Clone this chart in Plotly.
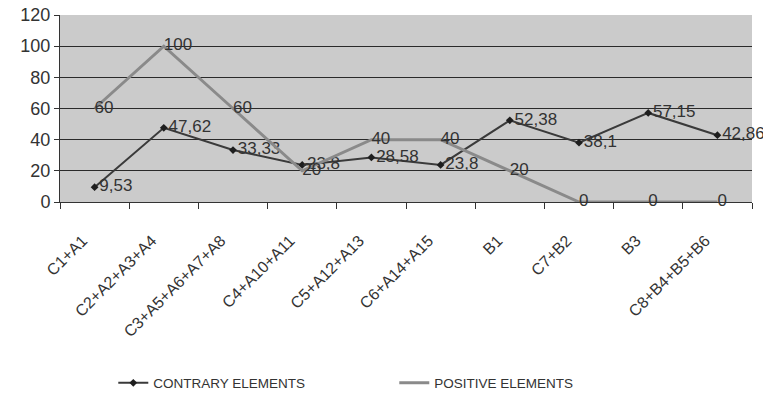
import plotly.graph_objects as go

categories = ["C1+A1", "C2+A2+A3+A4", "C3+A5+A6+A7+A8", "C4+A10+A11", "C5+A12+A13",
              "C6+A14+A15", "B1", "C7+B2", "B3", "C8+B4+B5+B6"]
contrary = [9.53, 47.62, 33.33, 23.8, 28.58, 23.8, 52.38, 38.1, 57.15, 42.86]
positive = [60, 100, 60, 20, 40, 40, 20, 0, 0, 0]
y_ticks = [0, 20, 40, 60, 80, 100, 120]


def comma(v):
    s = f"{v:g}"
    return s.replace(".", ",")


label_font = dict(family="Liberation Sans, Arial", size=17, color="#333333")

fig = go.Figure()
fig.add_trace(go.Scatter(
    x=categories, y=contrary, name="CONTRARY ELEMENTS",
    mode="lines+markers+text",
    line=dict(color="#3a3a3a", width=2),
    marker=dict(symbol="diamond", size=6, color="#1e1e1e"),
    text=[comma(v) for v in contrary], textposition="middle right",
    textfont=label_font, cliponaxis=False,
))
fig.add_trace(go.Scatter(
    x=categories, y=positive, name="POSITIVE ELEMENTS",
    mode="lines+text",
    line=dict(color="#8a8a8a", width=3),
    text=[comma(v) for v in positive], textposition="middle right",
    textfont=label_font, cliponaxis=False,
))

fig.update_layout(
    width=763, height=395,
    margin=dict(l=60, r=11, t=15, b=193, autoexpand=False),
    paper_bgcolor="white", plot_bgcolor="#cbcbcb",
    showlegend=True,
    legend=dict(
        orientation="h", x=0.077, y=-0.968, xanchor="left", yanchor="middle",
        entrywidth=236, entrywidthmode="pixels",
        font=dict(family="Liberation Sans, Arial", size=13.5, color="#333333"),
        bgcolor="rgba(0,0,0,0)",
    ),
    font=dict(family="Liberation Sans, Arial", color="#333333"),
)
fig.update_xaxes(
    type="category", tickson="boundaries", ticks="outside", ticklen=6,
    tickcolor="#333333", tickangle=-45, automargin=False,
    ticklabelstandoff=22, ticklabelshift=-12,
    tickfont=dict(size=16, color="#333333"),
    showline=True, linecolor="#333333", linewidth=1,
    showgrid=False, range=[-0.5, 9.5],
)
fig.update_yaxes(
    range=[0, 120], tickvals=y_ticks, ticks="outside", ticklen=5,
    tickcolor="#333333", tickfont=dict(size=18, color="#333333"),
    showline=True, linecolor="#333333", linewidth=1, automargin=False,
    showgrid=True, gridcolor="#2a2a2a", gridwidth=1, zeroline=False,
)

fig.write_html("out.html")
